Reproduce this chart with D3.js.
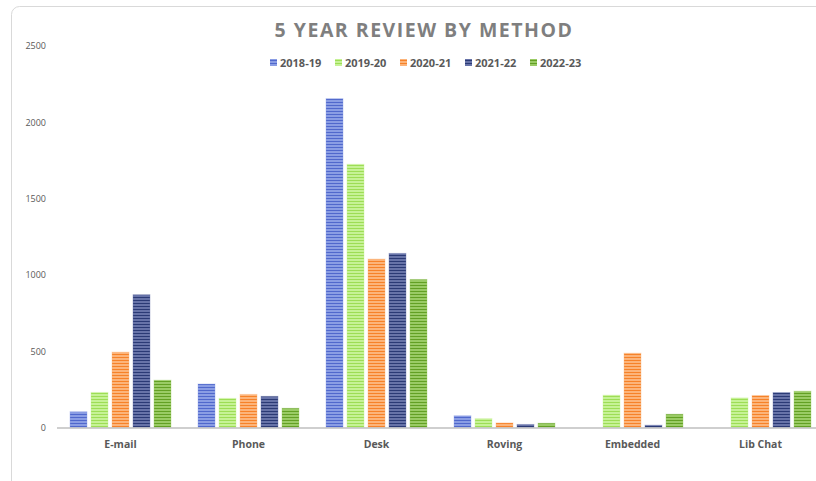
<!DOCTYPE html>
<html>
<head>
<meta charset="utf-8">
<script src="https://cdn.jsdelivr.net/npm/d3@7"></script>
<style>
  html, body { margin: 0; padding: 0; background: #fff; }
  svg { display: block; font-family: "Open Sans", "Noto Sans", sans-serif; }
</style>
</head>
<body>
<svg id="chart" width="816" height="481"></svg>
<script>
// Reference counts by method, five academic years
const categories = ["E-mail", "Phone", "Desk", "Roving", "Embedded", "Lib Chat"];
const seriesNames = ["2018-19", "2019-20", "2020-21", "2021-22", "2022-23"];
const values2018 = [103, 285, 2155, 77, 0, 0];
const values2019 = [230, 191, 1725, 58, 212, 194];
const values2020 = [494, 217, 1104, 30, 487, 210];
const values2021 = [870, 204, 1141, 20, 15, 229];
const values2022 = [310, 126, 970, 28, 87, 238];
const yTicks = [0, 500, 1000, 1500, 2000, 2500];

const seriesValues = [values2018, values2019, values2020, values2021, values2022];
// base (lighter) and stripe (darker) tones for each year
const baseColors   = ["#8a9de4", "#c6f296", "#fcb47a", "#6773a8", "#9acb65"];
const stripeColors = ["#5068cc", "#9ddd55", "#f68229", "#2b3a75", "#63a024"];

const svg = d3.select("#chart");

// card outline
svg.append("rect")
  .attr("x", 11.5).attr("y", 6.5)
  .attr("width", 900).attr("height", 490)
  .attr("rx", 8)
  .attr("fill", "#fff")
  .attr("stroke", "#d9d9d9");

// horizontal stripe fills
const defs = svg.append("defs");
seriesNames.forEach((name, i) => {
  const p = defs.append("pattern")
    .attr("id", "stripe" + i)
    .attr("patternUnits", "userSpaceOnUse")
    .attr("width", 6).attr("height", 3);
  p.append("rect").attr("width", 6).attr("height", 3).attr("fill", baseColors[i]);
  p.append("rect").attr("y", 0).attr("width", 6).attr("height", 1).attr("fill", stripeColors[i]);
});

const x0 = d3.scaleBand().domain(categories).range([56.5, 824.5]).paddingInner(0).paddingOuter(0);
const x1 = d3.scaleBand().domain(seriesNames).range([13.5, 114.5]).paddingInner(0.19);
const y = d3.scaleLinear().domain([0, 2500]).range([427.5, 46]);

// title
svg.append("text")
  .attr("x", 424).attr("y", 37)
  .attr("text-anchor", "middle")
  .attr("font-size", 19.5).attr("font-weight", 700)
  .attr("letter-spacing", 1.5)
  .attr("fill", "#7f7f7f")
  .text("5 YEAR REVIEW BY METHOD");

// legend
const legend = svg.append("g").attr("transform", "translate(270,63)");
seriesNames.forEach((name, i) => {
  const g = legend.append("g").attr("transform", `translate(${i * 65},0)`);
  g.append("rect").attr("x", 0).attr("y", -4).attr("width", 7).attr("height", 7)
    .attr("fill", `url(#stripe${i})`);
  g.append("text").attr("x", 10).attr("y", 0).attr("dy", "0.35em")
    .attr("font-size", 11).attr("font-weight", 700).attr("fill", "#595959")
    .text(name);
});

// y axis labels (no axis line, no gridlines)
const yAxis = d3.axisLeft(y).tickValues(yTicks).tickFormat(d3.format("d")).tickSize(0).tickPadding(0);
const yg = svg.append("g").attr("transform", "translate(46,0)").call(yAxis);
yg.select(".domain").remove();
yg.selectAll("text").attr("font-size", 9).attr("fill", "#595959")
  .attr("font-family", "\"Open Sans\", sans-serif");

// bars
const groups = svg.append("g").selectAll("g")
  .data(categories)
  .join("g")
  .attr("transform", d => `translate(${x0(d)},0)`);

groups.selectAll("rect")
  .data((c, ci) => seriesNames.map((s, si) => ({ s, si, v: seriesValues[si][ci] })))
  .join("rect")
  .filter(d => d.v > 0)
  .attr("x", d => x1(d.s))
  .attr("y", d => y(d.v))
  .attr("width", x1.bandwidth())
  .attr("height", d => y(0) - y(d.v))
  .attr("fill", d => `url(#stripe${d.si})`)
  .attr("stroke", d => baseColors[d.si])
  .attr("stroke-opacity", 0.35)
  .attr("stroke-width", 1);

// x axis
const xAxis = d3.axisBottom(x0).tickSize(0).tickPadding(13);
const xg = svg.append("g").attr("transform", `translate(0,${y(0)})`).call(xAxis);
xg.select(".domain").attr("stroke", "#bfbfbf").attr("stroke-width", 1.5);
xg.selectAll("text").attr("font-size", 10.5).attr("font-weight", 700).attr("fill", "#595959")
  .attr("font-family", "\"Open Sans\", sans-serif");
</script>
</body>
</html>
